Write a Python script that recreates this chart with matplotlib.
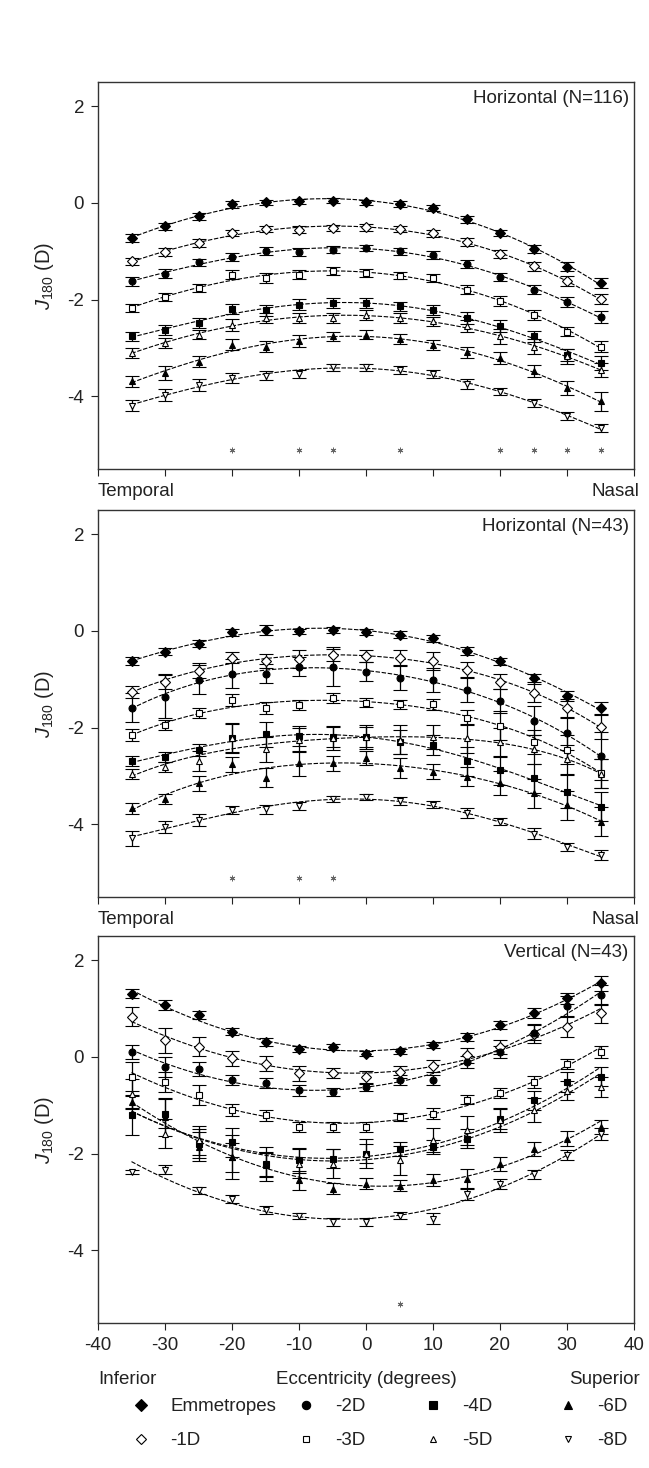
import numpy as np
import matplotlib
matplotlib.use("Agg")
import matplotlib.pyplot as plt
from matplotlib.lines import Line2D

plt.rcParams['font.family'] = ['Liberation Sans', 'DejaVu Sans']
plt.rcParams['mathtext.fontset'] = 'custom'
plt.rcParams['mathtext.rm'] = 'Liberation Sans'
plt.rcParams['mathtext.it'] = 'Liberation Sans:italic'
plt.rcParams['axes.unicode_minus'] = False

ecc = [-35, -30, -25, -20, -15, -10, -5, 0, 5, 10, 15, 20, 25, 30, 35]
groups = ["Emmetropes", "-1D", "-2D", "-3D", "-4D", "-5D", "-6D", "-8D"]
markers = ["D", "D", "o", "s", "s", "^", "^", "v"]
filled = [True, False, True, False, True, False, True, False]

# Horizontal, N=116
h116_means = [
    [-0.72, -0.48, -0.28, -0.03, 0.01, 0.03, 0.05, 0.01, -0.02, -0.10, -0.34, -0.62, -0.95, -1.32, -1.66],
    [-1.21, -1.02, -0.83, -0.62, -0.54, -0.55, -0.52, -0.50, -0.54, -0.63, -0.81, -1.06, -1.31, -1.62, -1.99],
    [-1.62, -1.46, -1.23, -1.12, -1.00, -1.02, -0.97, -0.93, -1.00, -1.07, -1.26, -1.53, -1.79, -2.05, -2.36],
    [-2.17, -1.95, -1.76, -1.48, -1.55, -1.48, -1.41, -1.45, -1.50, -1.55, -1.79, -2.03, -2.31, -2.66, -2.97],
    [-2.76, -2.63, -2.48, -2.19, -2.22, -2.10, -2.07, -2.07, -2.14, -2.22, -2.38, -2.55, -2.76, -3.14, -3.31],
    [-3.10, -2.90, -2.72, -2.52, -2.38, -2.38, -2.38, -2.31, -2.38, -2.45, -2.55, -2.76, -2.97, -3.17, -3.45],
    [-3.69, -3.52, -3.28, -2.93, -2.97, -2.86, -2.76, -2.72, -2.81, -2.93, -3.09, -3.21, -3.48, -3.83, -4.10],
    [-4.19, -3.97, -3.76, -3.62, -3.57, -3.53, -3.40, -3.40, -3.45, -3.53, -3.74, -3.90, -4.14, -4.41, -4.66],
]
h116_err = [
    [0.08, 0.07, 0.07, 0.07, 0.06, 0.06, 0.06, 0.06, 0.06, 0.06, 0.07, 0.07, 0.08, 0.09, 0.10],
    [0.08, 0.08, 0.08, 0.07, 0.07, 0.07, 0.07, 0.07, 0.07, 0.07, 0.08, 0.08, 0.09, 0.10, 0.10],
    [0.09, 0.09, 0.08, 0.08, 0.08, 0.08, 0.07, 0.07, 0.07, 0.08, 0.08, 0.09, 0.09, 0.10, 0.12],
    [0.08, 0.08, 0.08, 0.10, 0.10, 0.10, 0.08, 0.08, 0.08, 0.08, 0.09, 0.10, 0.10, 0.10, 0.12],
    [0.10, 0.10, 0.10, 0.10, 0.12, 0.12, 0.10, 0.10, 0.10, 0.10, 0.12, 0.12, 0.12, 0.12, 0.15],
    [0.10, 0.10, 0.10, 0.12, 0.10, 0.10, 0.10, 0.10, 0.10, 0.10, 0.12, 0.15, 0.15, 0.15, 0.15],
    [0.12, 0.15, 0.12, 0.12, 0.12, 0.12, 0.10, 0.10, 0.10, 0.10, 0.12, 0.12, 0.12, 0.15, 0.20],
    [0.12, 0.12, 0.12, 0.10, 0.10, 0.08, 0.08, 0.08, 0.08, 0.08, 0.10, 0.08, 0.08, 0.08, 0.08],
]
h116_sig = [-20, -10, -5, 5, 20, 25, 30, 35]

# Horizontal, N=43
h43_means = [
    [-0.62, -0.43, -0.26, -0.03, 0.02, -0.01, 0.02, -0.03, -0.08, -0.15, -0.41, -0.63, -0.97, -1.34, -1.59],
    [-1.26, -1.05, -0.82, -0.55, -0.62, -0.58, -0.50, -0.52, -0.55, -0.62, -0.80, -1.05, -1.28, -1.60, -1.98],
    [-1.59, -1.36, -1.01, -0.88, -0.88, -0.74, -0.74, -0.84, -0.97, -1.01, -1.22, -1.45, -1.86, -2.12, -2.59],
    [-2.15, -1.94, -1.70, -1.43, -1.59, -1.53, -1.39, -1.48, -1.52, -1.52, -1.79, -1.96, -2.29, -2.46, -2.94],
    [-2.69, -2.60, -2.46, -2.22, -2.14, -2.17, -2.19, -2.19, -2.29, -2.36, -2.69, -2.88, -3.05, -3.32, -3.63],
    [-2.96, -2.81, -2.69, -2.21, -2.45, -2.25, -2.21, -2.19, -2.25, -2.20, -2.22, -2.30, -2.45, -2.65, -2.95],
    [-3.67, -3.48, -3.15, -2.76, -3.03, -2.74, -2.74, -2.63, -2.83, -2.91, -3.01, -3.15, -3.36, -3.60, -3.94],
    [-4.29, -4.05, -3.91, -3.70, -3.69, -3.62, -3.48, -3.43, -3.52, -3.59, -3.77, -3.94, -4.19, -4.46, -4.63],
]
h43_err = [
    [0.08, 0.07, 0.07, 0.07, 0.10, 0.06, 0.06, 0.06, 0.07, 0.07, 0.08, 0.08, 0.09, 0.10, 0.12],
    [0.12, 0.15, 0.15, 0.12, 0.15, 0.18, 0.12, 0.12, 0.15, 0.18, 0.15, 0.15, 0.18, 0.20, 0.25],
    [0.30, 0.45, 0.30, 0.30, 0.20, 0.20, 0.40, 0.20, 0.25, 0.25, 0.25, 0.25, 0.30, 0.35, 0.50],
    [0.12, 0.10, 0.10, 0.12, 0.12, 0.10, 0.10, 0.10, 0.10, 0.12, 0.15, 0.30, 0.25, 0.30, 0.30],
    [0.10, 0.10, 0.12, 0.30, 0.25, 0.20, 0.20, 0.20, 0.25, 0.20, 0.30, 0.30, 0.30, 0.35, 0.30],
    [0.10, 0.10, 0.20, 0.30, 0.25, 0.25, 0.25, 0.25, 0.30, 0.25, 0.30, 0.30, 0.30, 0.30, 0.30],
    [0.12, 0.10, 0.15, 0.15, 0.20, 0.25, 0.15, 0.15, 0.20, 0.15, 0.20, 0.25, 0.30, 0.30, 0.30],
    [0.15, 0.12, 0.12, 0.08, 0.10, 0.08, 0.06, 0.06, 0.08, 0.08, 0.10, 0.08, 0.12, 0.08, 0.10],
]
h43_sig = [-20, -10, -5]

# Vertical, N=43
v43_means = [
    [1.31, 1.07, 0.86, 0.52, 0.31, 0.17, 0.21, 0.07, 0.12, 0.24, 0.41, 0.66, 0.91, 1.21, 1.52],
    [0.83, 0.34, 0.21, -0.03, -0.14, -0.34, -0.33, -0.41, -0.31, -0.19, 0.03, 0.21, 0.48, 0.62, 0.90],
    [0.10, -0.21, -0.25, -0.48, -0.54, -0.69, -0.72, -0.63, -0.48, -0.48, -0.10, 0.10, 0.50, 1.05, 1.28],
    [-0.41, -0.52, -0.79, -1.10, -1.21, -1.45, -1.45, -1.45, -1.24, -1.17, -0.88, -0.74, -0.52, -0.14, 0.10],
    [-1.21, -1.17, -1.79, -1.76, -2.21, -2.14, -2.10, -2.00, -1.90, -1.86, -1.69, -1.28, -0.90, -0.52, -0.41],
    [-0.76, -1.59, -1.72, -2.07, -2.21, -2.21, -2.21, -2.00, -2.14, -1.72, -1.52, -1.31, -1.10, -0.70, -0.62],
    [-0.93, -1.24, -1.86, -2.07, -2.24, -2.55, -2.72, -2.62, -2.66, -2.55, -2.52, -2.21, -1.90, -1.69, -1.45],
    [-2.38, -2.33, -2.76, -2.93, -3.17, -3.28, -3.41, -3.41, -3.28, -3.34, -2.83, -2.62, -2.43, -2.03, -1.59],
]
v43_err = [
    [0.10, 0.10, 0.08, 0.07, 0.08, 0.06, 0.06, 0.05, 0.05, 0.06, 0.08, 0.08, 0.10, 0.12, 0.15],
    [0.20, 0.25, 0.20, 0.15, 0.15, 0.15, 0.10, 0.12, 0.12, 0.12, 0.15, 0.15, 0.20, 0.20, 0.20],
    [0.15, 0.20, 0.15, 0.10, 0.10, 0.12, 0.08, 0.08, 0.10, 0.10, 0.12, 0.12, 0.15, 0.20, 0.20],
    [0.30, 0.20, 0.20, 0.12, 0.12, 0.10, 0.10, 0.10, 0.08, 0.12, 0.10, 0.10, 0.12, 0.10, 0.12],
    [0.40, 0.30, 0.30, 0.30, 0.25, 0.25, 0.20, 0.20, 0.15, 0.15, 0.20, 0.20, 0.20, 0.20, 0.20],
    [0.30, 0.30, 0.30, 0.45, 0.35, 0.30, 0.30, 0.30, 0.30, 0.25, 0.30, 0.25, 0.25, 0.20, 0.20],
    [0.15, 0.40, 0.30, 0.30, 0.25, 0.20, 0.12, 0.12, 0.12, 0.12, 0.20, 0.15, 0.15, 0.15, 0.15],
    [0.05, 0.10, 0.08, 0.08, 0.08, 0.06, 0.08, 0.08, 0.08, 0.12, 0.12, 0.10, 0.10, 0.10, 0.12],
]
v43_sig = [5]

panels = [
    ("Horizontal (N=116)", h116_means, h116_err, h116_sig, 4),
    ("Horizontal (N=43)", h43_means, h43_err, h43_sig, 4),
    ("Vertical (N=43)", v43_means, v43_err, v43_sig, 2),
]

W, H = 649, 1468
fig = plt.figure(figsize=(W / 100, H / 100), dpi=100)
left, right = 98, 634
tops = [82, 510, 936]
ph = 387
fs = 13.5
tc = "#222222"

xs = np.array(ecc, dtype=float)
xfine = np.linspace(-35, 35, 200)

for i, (title, means, errs, sig, deg) in enumerate(panels):
    ax = fig.add_axes([left / W, 1 - (tops[i] + ph) / H, (right - left) / W, ph / H])
    for j in range(len(groups)):
        y = np.array(means[j])
        coef = np.polyfit(xs, y, deg)
        ax.plot(xfine, np.polyval(coef, xfine), color="black", lw=0.8,
                ls=(0, (4, 1.5)), zorder=2)
        ax.errorbar(xs, y, yerr=errs[j], fmt=markers[j], ms=5,
                    mfc="black" if filled[j] else "white", mec="black", mew=0.8,
                    ecolor="black", elinewidth=0.9, capsize=5, capthick=0.9, zorder=3)
    ax.plot(sig, [-5.1] * len(sig), ls="none", marker=(6, 2, 0), ms=4,
            color="#666666", mew=0.7)
    ax.set_xlim(-40, 40)
    ax.set_ylim(-5.5, 2.5)
    ax.set_xticks(range(-40, 41, 10))
    ax.set_yticks([2, 0, -2, -4])
    ax.tick_params(direction="out", length=5, width=0.8, labelsize=fs,
                   colors=tc, pad=5)
    for sp in ax.spines.values():
        sp.set_color("#333333")
        sp.set_linewidth(1.0)
    ax.text(0.99, 0.98, title, transform=ax.transAxes, ha="right", va="top",
            fontsize=fs, color=tc)
    ax.set_ylabel("$\\it{J}_{180}$ (D)", fontsize=fs + 1, labelpad=8, color=tc)
    if i < 2:
        ax.set_xticklabels([])
        ax.text(0.0, -0.035, "Temporal", transform=ax.transAxes, ha="left",
                va="top", fontsize=fs, color=tc)
        ax.text(1.01, -0.035, "Nasal", transform=ax.transAxes, ha="right",
                va="top", fontsize=fs, color=tc)
    else:
        ax.set_xlabel("Eccentricity (degrees)", fontsize=fs, labelpad=12, color=tc)
        ax.text(0.0, -0.125, "Inferior", transform=ax.transAxes, ha="left",
                va="top", fontsize=fs, color=tc)
        ax.text(1.01, -0.125, "Superior", transform=ax.transAxes, ha="right",
                va="top", fontsize=fs, color=tc)

handles = []
for j, g in enumerate(groups):
    handles.append(Line2D([], [], ls="none", marker=markers[j],
                          ms=6 if filled[j] else 5,
                          mfc="black" if filled[j] else "white", mec="black",
                          mew=0.8, label=g))

# four legend columns, filled marker on top, open one below
col_x = [132, 297, 424, 559]
for k in range(4):
    leg = fig.legend(handles=handles[2 * k:2 * k + 2], loc="upper left",
                     bbox_to_anchor=(col_x[k] / W, 1 - 1398 / H), frameon=False,
                     fontsize=fs, borderpad=0, borderaxespad=0,
                     handlelength=1.0, handletextpad=1.05, labelspacing=0.9,
                     labelcolor=tc)

fig.savefig("out.png", dpi=100)
